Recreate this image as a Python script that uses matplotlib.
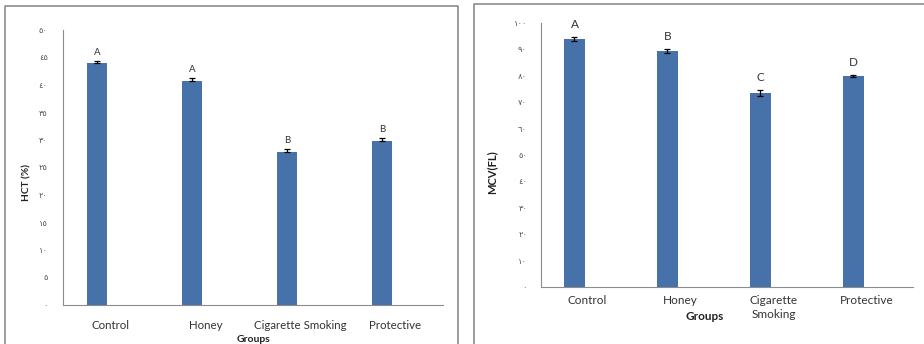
import matplotlib.pyplot as plt
from matplotlib.lines import Line2D

# data
groups_left = ["Control", "Honey", "Cigarette Smoking", "Protective"]
groups_right = ["Control", "Honey", "Cigarette\nSmoking", "Protective"]

hct = [44.0, 40.8, 27.9, 29.9]
hct_err = [0.4, 0.4, 0.4, 0.5]
hct_letters = ["A", "A", "B", "B"]

mcv = [94.0, 89.5, 73.6, 80.0]
mcv_err = [0.8, 0.7, 1.2, 0.4]
mcv_letters = ["A", "B", "C", "D"]

hct_ticks = list(range(0, 51, 5))
mcv_ticks = list(range(0, 101, 10))

ARABIC = str.maketrans("0123456789", "٠١٢٣٤٥٦٧٨٩")
FONT = ["Lato", "DejaVu Sans"]
BLUE = "#4672a9"
GREY = "#8c8c8c"

W, H = 924, 344
fig = plt.figure(figsize=(W / 100, H / 100), dpi=100)


def px_axes(x0, y0, x1, y1):
    return fig.add_axes([x0 / W, (H - y1) / H, (x1 - x0) / W, (y1 - y0) / H])


def style(ax, ticks, ymax, pad_y, labels, fs_cat, pad_x):
    for s in ["top", "right"]:
        ax.spines[s].set_visible(False)
    for s in ["left", "bottom"]:
        ax.spines[s].set_color(GREY)
        ax.spines[s].set_linewidth(0.8)
    ax.set_ylim(0, ymax)
    ax.set_xlim(-0.5, 3.5)
    ax.set_yticks(ticks)
    ax.set_yticklabels([str(t).translate(ARABIC) for t in ticks],
                       family=FONT, fontsize=6, color="#555555")
    ax.set_xticks(range(4))
    ax.set_xticklabels(labels, family=FONT, fontsize=fs_cat, color="#333333",
                       linespacing=1.3)
    ax.tick_params(axis="y", length=0, pad=pad_y)
    ax.tick_params(axis="x", length=0, pad=pad_x)


# left panel: HCT
ax1 = px_axes(63, 30, 443, 305)
x1 = [i - 0.14 for i in range(4)]
ax1.bar(x1, hct, width=0.21, color=BLUE, zorder=2)
ax1.errorbar(x1, hct, yerr=[[0] * 4, hct_err], fmt="none", ecolor="black",
             elinewidth=0.9, capsize=2.5, capthick=0.9, zorder=3)
for x, v, e, t in zip(x1, hct, hct_err, hct_letters):
    ax1.annotate(t, (x, v + e), xytext=(0, 3), textcoords="offset points",
                 ha="center", va="bottom", family=FONT, fontsize=7, color="#333333")
style(ax1, hct_ticks, 50, 11, groups_left, 8.3, 11)
fig.text(27 / W, 1 - 182 / H, "HCT (%)", rotation=90, ha="center", va="center",
         family=FONT, fontsize=7.3, fontweight="bold", color="#222222")
fig.text(253 / W, 1 - 339 / H, "Groups", ha="center", va="center",
         family=FONT, fontsize=7.5, fontweight="bold", color="#222222")

# right panel: MCV
ax2 = px_axes(541, 23, 913, 287)
x2 = [i - 0.14 for i in range(4)]
ax2.bar(x2, mcv, width=0.22, color=BLUE, zorder=2)
ax2.errorbar(x2, mcv, yerr=mcv_err, fmt="none", ecolor="black",
             elinewidth=0.9, capsize=2.5, capthick=0.9, zorder=3)
for x, v, e, t in zip(x2, mcv, mcv_err, mcv_letters):
    ax2.annotate(t, (x, v + e), xytext=(0, 5), textcoords="offset points",
                 ha="center", va="bottom", family=FONT, fontsize=8.5, color="#333333")
style(ax2, mcv_ticks, 100, 10, groups_right, 8.5, 6)
fig.text(492 / W, 1 - 172 / H, "MCV(FL)", rotation=90, ha="center", va="center",
         family=FONT, fontsize=8, fontweight="bold", color="#222222")
fig.text(705 / W, 1 - 317 / H, "Groups", ha="center", va="center",
         family=FONT, fontsize=8.5, fontweight="bold", color="#222222")

# panel frames
def frame(pts):
    xs = [p[0] / W for p in pts]
    ys = [1 - p[1] / H for p in pts]
    fig.add_artist(Line2D(xs, ys, color=GREY, lw=1.2, transform=fig.transFigure))

frame([(5, 350), (5, 6), (458, 6), (458, 350)])
frame([(474, 350), (474, 4), (930, 4)])

fig.savefig("out.png", dpi=100, facecolor="white")
